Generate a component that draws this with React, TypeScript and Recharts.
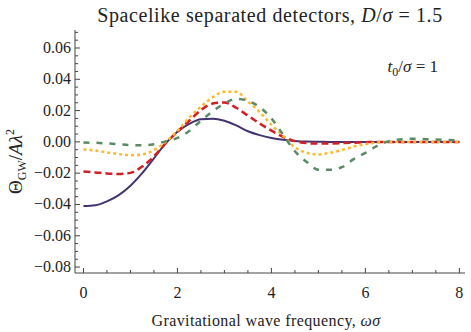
import React from "react";
import { LineChart, Line, XAxis, YAxis, Label } from "recharts";

// ---------------------------------------------------------------------------
// Data (ω σ vs Θ_GW / A λ²)
// ---------------------------------------------------------------------------
const omega = [
  0, 0.25, 0.5, 0.75, 1, 1.25, 1.5, 1.75, 2, 2.25, 2.5, 2.75, 3, 3.25, 3.5, 3.75,
  4, 4.25, 4.5, 4.75, 5, 5.25, 5.5, 5.75, 6, 6.25, 6.5, 7, 7.5, 8,
];
const purple = [
  -0.041, -0.0405, -0.038, -0.034, -0.028, -0.02, -0.0105, -0.001, 0.0065, 0.0115, 0.0145, 0.0148, 0.0135, 0.0105, 0.0068, 0.0043,
  0.0025, 0.0013, 0.0006, 0.0002, 0.0001, 0, 0, 0, 0, 0, 0, 0, 0, 0,
];
const red = [
  -0.0189, -0.0195, -0.0202, -0.0205, -0.0198, -0.0158, -0.0092, -0.0008, 0.0065, 0.0135, 0.0203, 0.0245, 0.0252, 0.0218, 0.0168, 0.0118,
  0.0072, 0.0032, 0.0005, -0.0008, -0.0011, -0.001, -0.0008, -0.0005, -0.0002, 0, 0, 0, 0, 0,
];
const yellow = [
  -0.0048, -0.0055, -0.0067, -0.0078, -0.0085, -0.008, -0.0052, 0, 0.007, 0.0155, 0.0225, 0.0285, 0.032, 0.032, 0.0258, 0.019,
  0.011, 0.0038, -0.0035, -0.007, -0.008, -0.007, -0.0052, -0.003, -0.0015, -0.0004, 0, 0, 0, 0,
];
const green = [
  -0.0004, -0.0006, -0.001, -0.0015, -0.002, -0.0022, -0.0015, 0.0003, 0.0025, 0.007, 0.0135, 0.0195, 0.0245, 0.0275, 0.0262, 0.0222,
  0.015, 0.0045, -0.006, -0.0128, -0.0178, -0.0178, -0.0162, -0.011, -0.007, -0.0025, 0.0004, 0.002, 0.0015, 0.001,
];

const xTicks = [0, 0.5, 1, 1.5, 2, 2.5, 3, 3.5, 4, 4.5, 5, 5.5, 6, 6.5, 7, 7.5, 8];
const xLabelled = [0, 2, 4, 6, 8];
const yTicks = [
  -0.08, -0.075, -0.07, -0.065, -0.06, -0.055, -0.05, -0.045, -0.04, -0.035, -0.03, -0.025, -0.02, -0.015, -0.01, -0.005,
  0, 0.005, 0.01, 0.015, 0.02, 0.025, 0.03, 0.035, 0.04, 0.045, 0.05, 0.055, 0.06, 0.065, 0.07,
];
const yLabelled = [-0.08, -0.06, -0.04, -0.02, 0, 0.02, 0.04, 0.06];

const data = omega.map((w, i) => ({ w, purple: purple[i], red: red[i], yellow: yellow[i], green: green[i] }));

const FONT = "'Liberation Serif', 'Times New Roman', serif";
const FRAME = "#444";
const INK = "#222";
const near = (list: number[], v: number) => list.some((t) => Math.abs(t - v) < 1e-9);
const fmtY = (v: number) => (v < 0 ? "\u2212" : "") + Math.abs(v).toFixed(2);
const txt = (size: number, extra: React.CSSProperties = {}): React.CSSProperties => ({ fontFamily: FONT, fontSize: size, fill: INK, ...extra });

// ---------------------------------------------------------------------------
// Inward ticks (Mathematica frame style)
// ---------------------------------------------------------------------------
function BottomTick({ x, y, payload }: any) {
  const major = near(xLabelled, payload.value);
  return (
    <g>
      <line x1={x} x2={x} y1={y} y2={y - (major ? 5 : 3)} stroke={FRAME} />
      {major && (
        <text x={x} y={y + 25} textAnchor="middle" style={txt(16)}>
          {payload.value}
        </text>
      )}
    </g>
  );
}
function TopTick({ x, y, payload }: any) {
  const major = near(xLabelled, payload.value);
  return <line x1={x} x2={x} y1={y} y2={y + (major ? 5 : 3)} stroke={FRAME} />;
}
function LeftTick({ x, y, payload }: any) {
  const major = near(yLabelled, payload.value);
  return (
    <g>
      <line x1={x} x2={x + (major ? 5 : 3)} y1={y} y2={y} stroke={FRAME} />
      {major && (
        <text x={x - 4} y={y + 5} textAnchor="end" style={txt(16)}>
          {fmtY(payload.value)}
        </text>
      )}
    </g>
  );
}
function RightTick({ x, y, payload }: any) {
  const major = near(yLabelled, payload.value);
  return <line x1={x} x2={x - (major ? 5 : 3)} y1={y} y2={y} stroke={FRAME} />;
}

export default function App() {
  const xDomain: [number, number] = [-0.18, 8.12];
  const yDomain: [number, number] = [-0.0838, 0.0715];
  return (
    <div style={{ position: "absolute", left: 0, top: 0, width: 471, height: 332, background: "#fff", fontFamily: FONT, color: INK }}>
      <div style={{ position: "absolute", left: 75, top: 4, width: 390, textAlign: "center", fontSize: 20, letterSpacing: 0.6, whiteSpace: "nowrap" }}>
        Spacelike separated detectors, <i>D</i>/<i>σ</i> = 1.5
      </div>
      <div style={{ position: "absolute", right: 33, top: 57, fontSize: 17, whiteSpace: "nowrap" }}>
        <i>t</i><sub style={{ fontSize: 12 }}>0</sub>/<i>σ</i> = 1
      </div>
      <LineChart width={471} height={332} data={data} margin={{ top: 30, right: 6, left: 0, bottom: 0 }}>
        <XAxis
          xAxisId="b" dataKey="w" type="number" domain={xDomain} allowDataOverflow ticks={xTicks} interval={0}
          height={59} tickSize={0} tickMargin={0} tickLine={false} tick={<BottomTick />} axisLine={{ stroke: FRAME }}
        >
          <Label
            content={({ viewBox }: any) => (
              <text x={viewBox.x + viewBox.width / 2 - 4} y={viewBox.y + 53} textAnchor="middle" style={txt(16, { letterSpacing: 0.4 })}>
                Gravitational wave frequency, <tspan fontStyle="italic">ωσ</tspan>
              </text>
            )}
          />
        </XAxis>
        <XAxis
          xAxisId="t" orientation="top" dataKey="w" type="number" domain={xDomain} allowDataOverflow ticks={xTicks} interval={0}
          height={0} tickSize={0} tickMargin={0} tickLine={false} tick={<TopTick />} axisLine={{ stroke: FRAME }}
        />
        <YAxis
          yAxisId="l" type="number" domain={yDomain} allowDataOverflow ticks={yTicks} interval={0}
          width={75} tickSize={0} tickMargin={0} tickLine={false} tick={<LeftTick />} axisLine={{ stroke: FRAME }}
        >
          <Label
            content={({ viewBox }: any) => {
              const cx = viewBox.x + 22;
              const cy = viewBox.y + viewBox.height / 2 + 10;
              return (
                <text x={cx} y={cy} transform={`rotate(-90 ${cx} ${cy})`} textAnchor="middle" style={txt(19)}>
                  Θ<tspan fontSize={12} dy={4}>GW</tspan><tspan dy={-4}>/</tspan><tspan fontStyle="italic">Aλ</tspan><tspan fontSize={12} dy={-8}>2</tspan>
                </text>
              );
            }}
          />
        </YAxis>
        <YAxis
          yAxisId="r" orientation="right" type="number" domain={yDomain} allowDataOverflow ticks={yTicks} interval={0}
          width={0} tickSize={0} tickMargin={0} tickLine={false} tick={<RightTick />} axisLine={{ stroke: FRAME }}
        />
        <Line xAxisId="b" yAxisId="l" dataKey="purple" type="monotone" stroke="#44336f" strokeWidth={2} dot={false} isAnimationActive={false} />
        <Line xAxisId="b" yAxisId="l" dataKey="red" type="monotone" stroke="#d11f26" strokeWidth={2.5} strokeDasharray="7 4" dot={false} isAnimationActive={false} />
        <Line xAxisId="b" yAxisId="l" dataKey="yellow" type="monotone" stroke="#fdb92c" strokeWidth={2.5} strokeDasharray="3 3" dot={false} isAnimationActive={false} />
        <Line xAxisId="b" yAxisId="l" dataKey="green" type="monotone" stroke="#5b8a64" strokeWidth={2.5} strokeDasharray="6 7" dot={false} isAnimationActive={false} />
      </LineChart>
    </div>
  );
}
